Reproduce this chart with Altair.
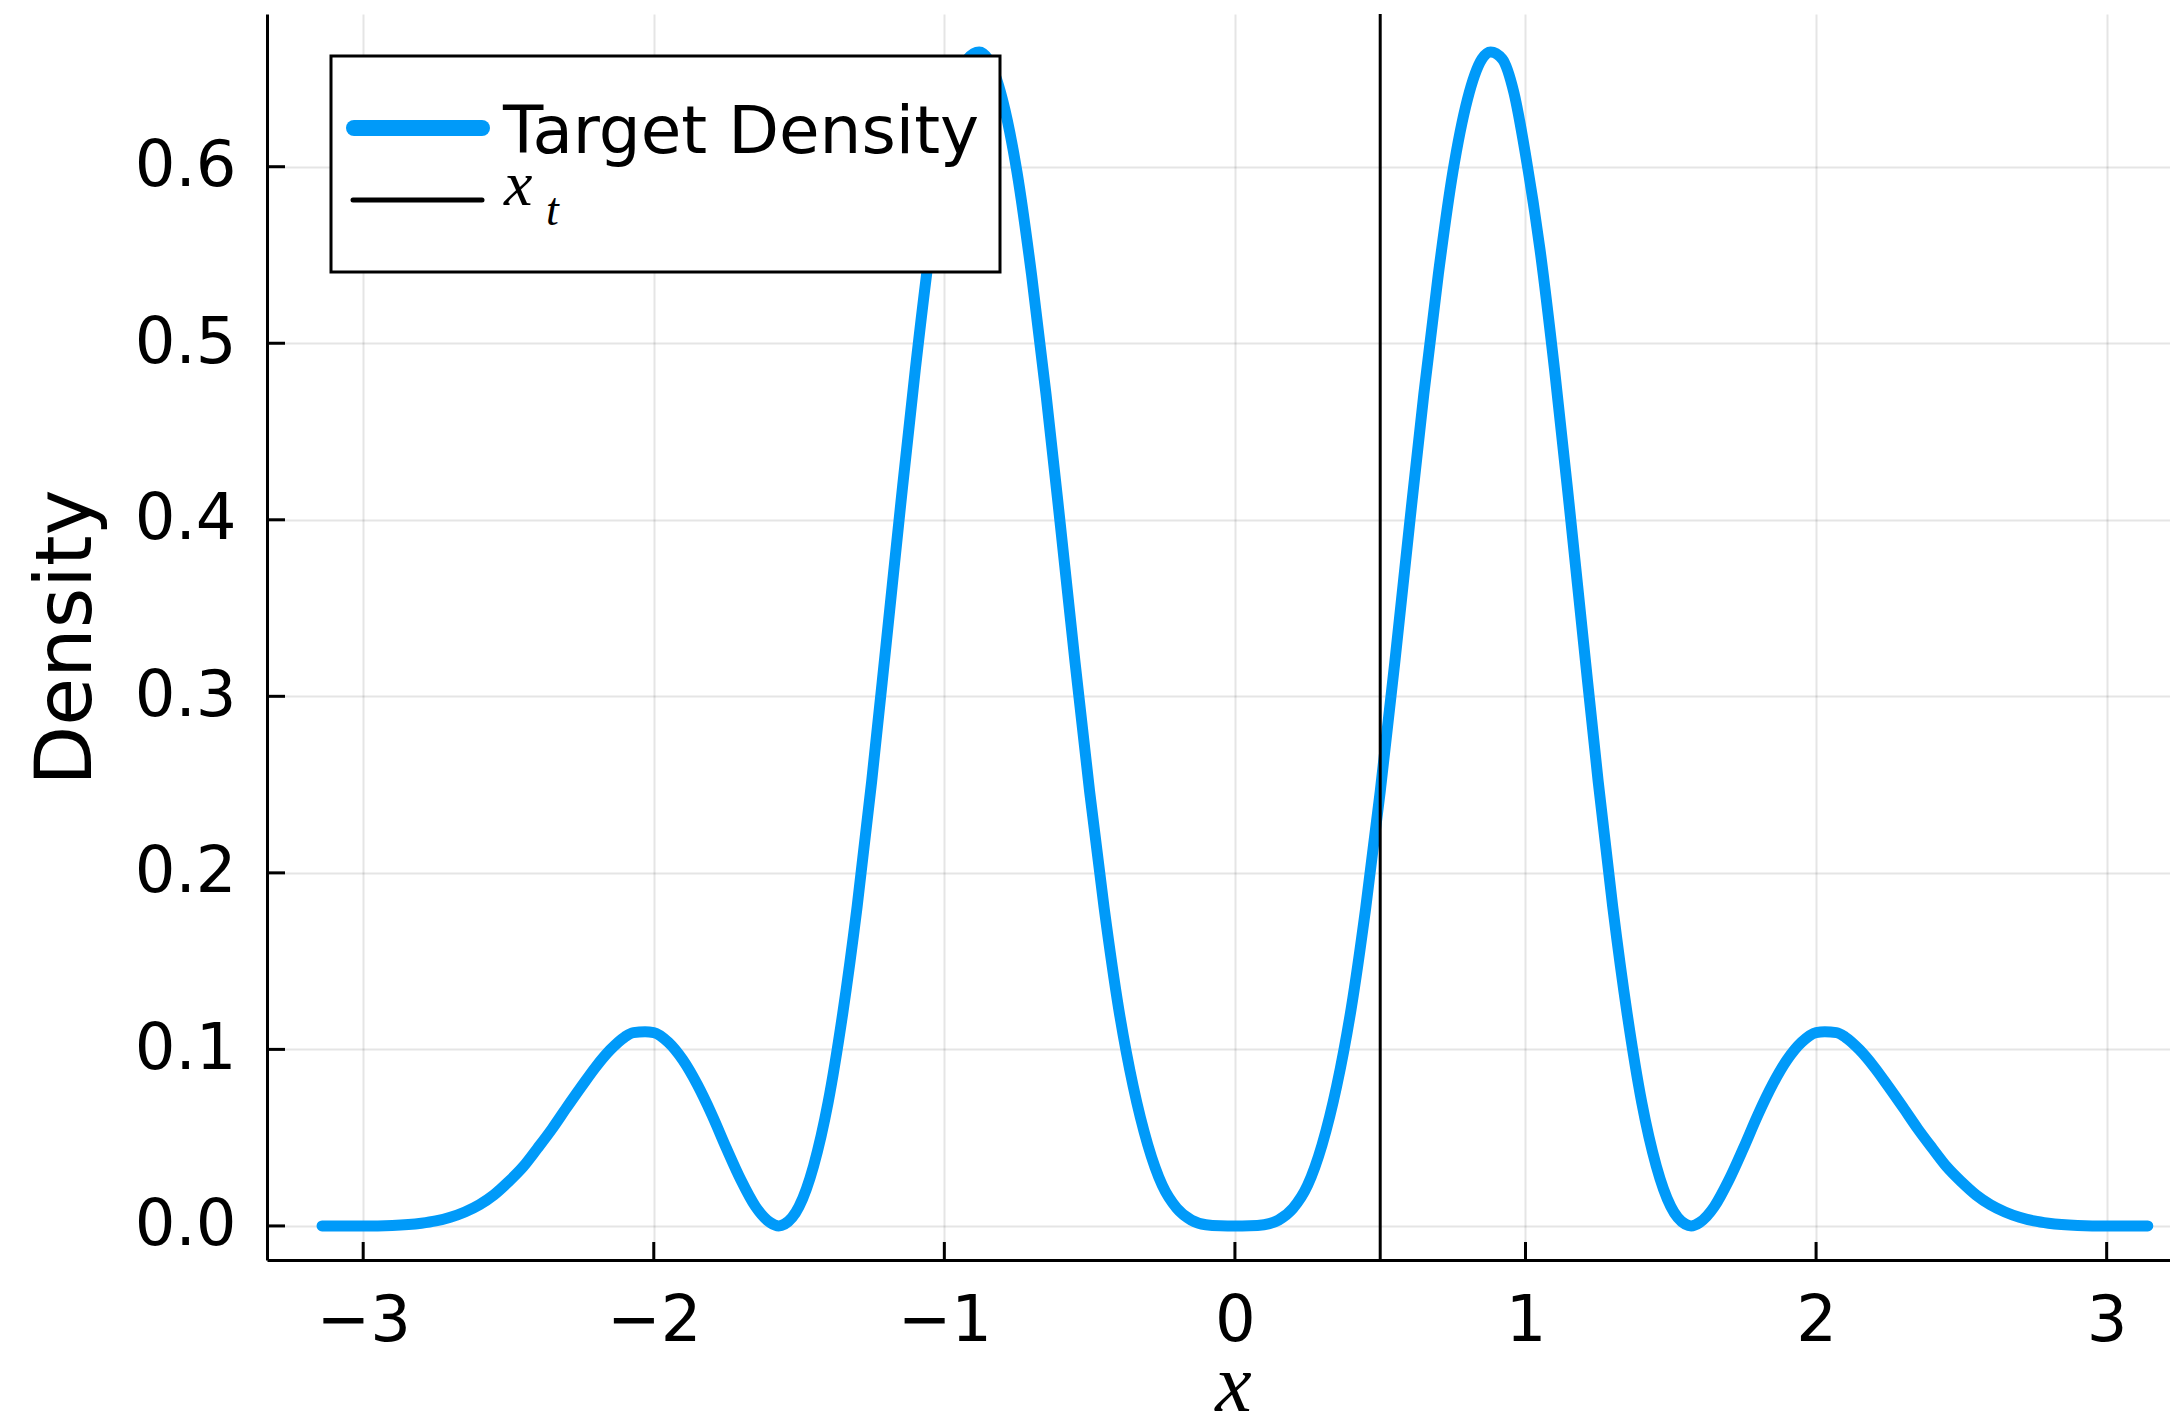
import altair as alt
import pandas as pd

# ---- data (right half; the curve is mirrored on the left) ----
x_pos = [0.0, 0.05, 0.1, 0.15, 0.2, 0.25, 0.3, 0.35, 0.4, 0.45, 0.5, 0.55, 0.6, 0.65, 0.7,
         0.75, 0.8, 0.85, 0.88, 0.92, 0.96, 1.0, 1.05, 1.1, 1.15, 1.2, 1.25, 1.3, 1.35, 1.4,
         1.45, 1.5, 1.55, 1.57, 1.6, 1.65, 1.7, 1.75, 1.8, 1.85, 1.9, 1.95, 2.0, 2.03, 2.07,
         2.1, 2.15, 2.2, 2.25, 2.3, 2.35, 2.4, 2.45, 2.5, 2.55, 2.6, 2.65, 2.7, 2.75, 2.8,
         2.9, 3.0, 3.1416]
dens_pos = [0.0, 0.0001, 0.0007, 0.0033, 0.010, 0.023, 0.046, 0.079, 0.123, 0.180, 0.246, 0.319,
            0.396, 0.471, 0.539, 0.597, 0.638, 0.661, 0.665, 0.661, 0.642, 0.607, 0.553, 0.485,
            0.409, 0.330, 0.252, 0.181, 0.120, 0.070, 0.034, 0.011, 0.001, 0.0, 0.002, 0.011,
            0.026, 0.044, 0.063, 0.080, 0.094, 0.104, 0.1095, 0.110, 0.1095, 0.107, 0.0997,
            0.090, 0.0787, 0.067, 0.055, 0.044, 0.0334, 0.025, 0.0176, 0.012, 0.0079, 0.0049,
            0.0028, 0.0015, 0.0003, 0.0, 0.0]
x_vals = [-v for v in reversed(x_pos[1:])] + x_pos
density = list(reversed(dens_pos[1:])) + dens_pos

x_t = [0.5]
x_ticks = [-3, -2, -1, 0, 1, 2, 3]
y_ticks = [0.0, 0.1, 0.2, 0.3, 0.4, 0.5, 0.6]
legend_labels = ["Target Density"]

W, H = 1903, 1246
BLUE = "#009AF9"

curve_df = pd.DataFrame({"x": x_vals, "density": density})
xt_df = pd.DataFrame({"x": x_t})
xtick_df = pd.DataFrame({"t": x_ticks})
ytick_df = pd.DataFrame({"t": y_ticks})
one = pd.DataFrame({"a": [0]})
lab_df = pd.DataFrame({"label": legend_labels})

xscale = alt.Scale(domain=[-3.331, 3.218], nice=False, zero=False)
yscale = alt.Scale(domain=[-0.0193, 0.6865], nice=False, zero=False)

xaxis = alt.Axis(values=x_ticks, format="d", title="x", grid=True,
                 gridColor="black", gridOpacity=0.1, gridWidth=2,
                 domainColor="black", domainWidth=3, tickSize=0,
                 labelFont="DejaVu Sans", labelFontSize=64, labelColor="black",
                 labelPadding=29, labelFlush=False,
                 titleFont="Liberation Serif", titleFontStyle="italic",
                 titleFontWeight="normal", titleFontSize=82, titleColor="black",
                 titleX=966, titleY=150, titleAlign="center", titleBaseline="alphabetic")
yaxis = alt.Axis(values=y_ticks, format=".1f", title="Density", grid=True,
                 gridColor="black", gridOpacity=0.1, gridWidth=2,
                 domainColor="black", domainWidth=3, tickSize=0,
                 labelFont="DejaVu Sans", labelFontSize=64, labelColor="black",
                 labelPadding=31, labelFlush=False,
                 titleFont="DejaVu Sans", titleFontWeight="normal", titleFontSize=78,
                 titleColor="black", titleAngle=270, titleX=-177, titleY=623,
                 titleAlign="center", titleBaseline="alphabetic")

curve = alt.Chart(curve_df).mark_line(
    color=BLUE, strokeWidth=11, strokeCap="round", strokeJoin="round", interpolate="monotone"
).encode(
    x=alt.X("x:Q", scale=xscale, axis=xaxis),
    y=alt.Y("density:Q", scale=yscale, axis=yaxis),
)

vline = alt.Chart(xt_df).mark_rule(color="black", strokeWidth=3).encode(
    x=alt.X("x:Q", scale=xscale)
)

xticks = alt.Chart(xtick_df).mark_rule(color="black", strokeWidth=3).encode(
    x=alt.X("t:Q", scale=xscale), y=alt.value(H), y2=alt.value(H - 18)
)
yticks = alt.Chart(ytick_df).mark_rule(color="black", strokeWidth=3).encode(
    y=alt.Y("t:Q", scale=yscale), x=alt.value(0), x2=alt.value(18)
)

# legend box drawn by hand
box = alt.Chart(one).mark_rect(fill="white", stroke="black", strokeWidth=3).encode(
    x=alt.value(64), x2=alt.value(733), y=alt.value(42), y2=alt.value(258)
)
leg_blue = alt.Chart(one).mark_rule(color=BLUE, strokeWidth=16, strokeCap="round").encode(
    x=alt.value(87), x2=alt.value(215), y=alt.value(114)
)
leg_black = alt.Chart(one).mark_rule(color="black", strokeWidth=5, strokeCap="round").encode(
    x=alt.value(86), x2=alt.value(215), y=alt.value(186)
)
leg_text = alt.Chart(lab_df).mark_text(
    align="left", baseline="alphabetic", font="DejaVu Sans", fontSize=66, color="black"
).encode(x=alt.value(236), y=alt.value(139), text="label:N")
leg_x = alt.Chart(one).mark_text(
    align="left", baseline="alphabetic", font="Liberation Serif", fontStyle="italic",
    fontSize=64, color="black"
).encode(x=alt.value(237), y=alt.value(191), text=alt.value("x"))
leg_t = alt.Chart(one).mark_text(
    align="left", baseline="alphabetic", font="Liberation Serif", fontStyle="italic",
    fontSize=46, color="black"
).encode(x=alt.value(279), y=alt.value(211), text=alt.value("t"))

chart = alt.layer(
    curve, vline, xticks, yticks, box, leg_blue, leg_black, leg_text, leg_x, leg_t
).properties(
    width=W, height=H,
    autosize=alt.AutoSizeParams(type="none"),
    padding={"left": 259, "top": 6, "right": 0, "bottom": 155},
    background="white",
).configure_view(stroke=None)

chart.save("out.html", embed_options={"renderer": "svg", "actions": False})
